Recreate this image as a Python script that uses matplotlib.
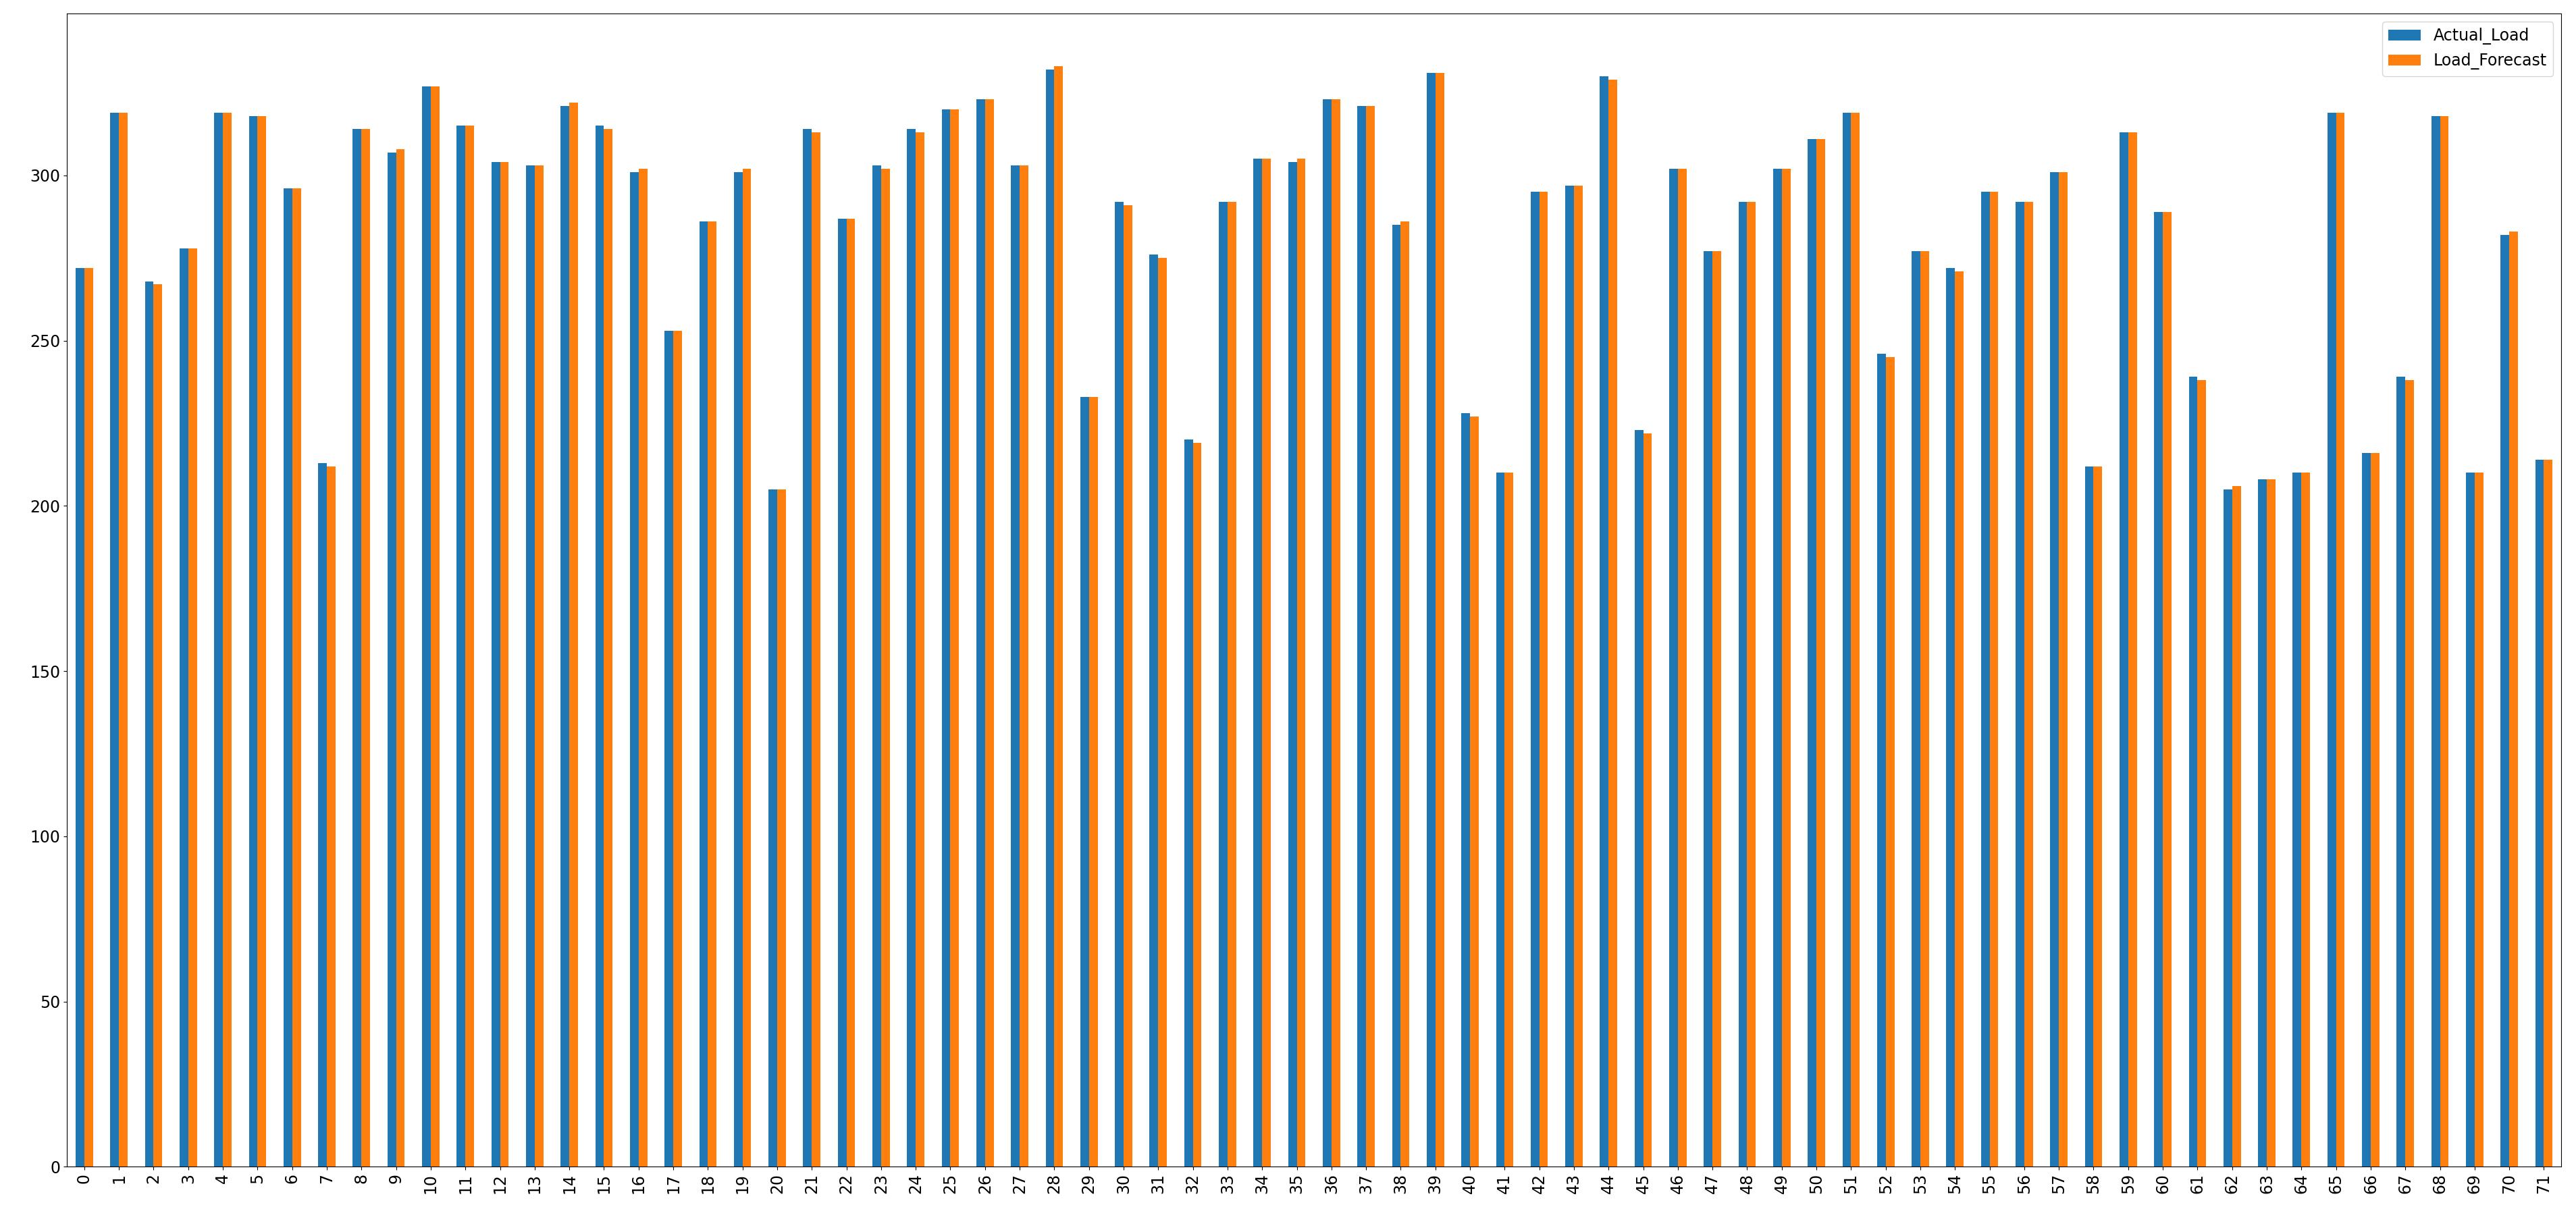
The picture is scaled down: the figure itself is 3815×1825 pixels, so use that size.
import matplotlib
matplotlib.use("Agg")
import matplotlib.pyplot as plt
import numpy as np

actual = [272,319,268,278,319,318,296,213,314,307,327,315,304,303,321,315,301,253,286,301,
          205,314,287,303,314,320,323,303,332,233,292,276,220,292,305,304,323,321,285,331,
          228,210,295,297,330,223,302,277,292,302,311,319,246,277,272,295,292,301,212,313,
          289,239,205,208,210,319,216,239,318,210,282,214]
forecast = [272,319,267,278,319,318,296,212,314,308,327,315,304,303,322,314,302,253,286,302,
            205,313,287,302,313,320,323,303,333,233,291,275,219,292,305,305,323,321,286,331,
            227,210,295,297,329,222,302,277,292,302,311,319,245,277,271,295,292,301,212,313,
            289,238,206,208,210,319,216,238,318,210,283,214]
labels = [str(i) for i in range(len(actual))]

fig = plt.figure(figsize=(38.16, 18.25), dpi=100)
ax = fig.add_axes([0.026, 0.053, 0.968, 0.936])
x = np.arange(len(actual))
w = 0.25
ax.bar(x - w/2, actual, w, color="#1f77b4", label="Actual_Load")
ax.bar(x + w/2, forecast, w, color="#ff7f0e", label="Load_Forecast")
ax.set_xticks(x)
ax.set_xticklabels(labels, rotation=90, fontsize=17)
ax.tick_params(axis="y", labelsize=17)
ax.set_xlim(-0.5, len(actual) - 0.5)
ax.set_ylim(0, 349)
ax.legend(fontsize=17, loc="upper right")
fig.savefig("out.png", dpi=100)
